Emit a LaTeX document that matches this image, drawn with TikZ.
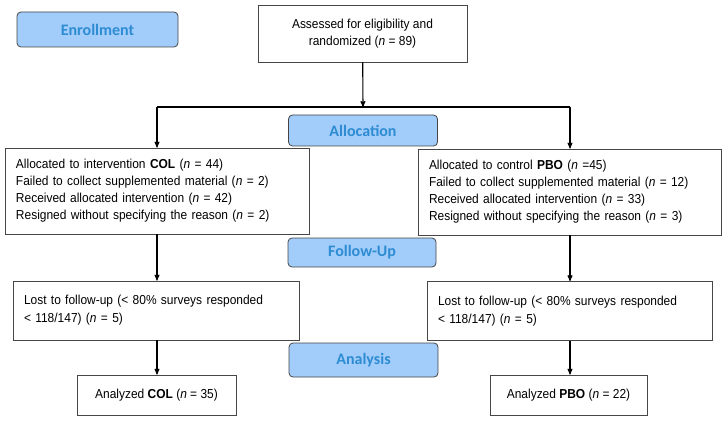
\documentclass[tikz,border=0pt]{standalone}
\usepackage{fontspec}
\setmainfont{Liberation Sans}[FakeStretch=0.92]
\newfontfamily\stagefont{Carlito}
\usepackage{tikz}
\usetikzlibrary{arrows,calc,positioning,shapes}
\definecolor{stagefill}{RGB}{162,204,250}
\definecolor{stagetext}{RGB}{45,140,210}
\definecolor{boxline}{RGB}{70,70,70}
\tikzset{
flow/.style={>=stealth',x=1pt,y=-1pt,
font=\fontsize{13}{17}\selectfont},
link/.style={->,line width=1.1pt},
stage/.style={rectangle,rounded corners=4pt,draw=boxline,fill=stagefill,
text=stagetext,font=\stagefont\bfseries\fontsize{16}{18}\selectfont,
minimum width=#1,minimum height=32pt,inner sep=0pt,thick},
stage/.default={149pt},
infobox/.style={rectangle,draw=boxline,thick,align=left,
text width=#1,inner xsep=11pt,inner ysep=0pt},
countbox/.style={rectangle,draw=boxline,thick,align=center,inner sep=0pt},
}
\newcommand{\ncount}[1]{(\textit{n} = #1)}

\begin{document}
\begin{tikzpicture}[flow]
\useasboundingbox (0,0) rectangle (728,422);
                    \node[stage=161pt,minimum height=35pt] (enroll) at (97.5,29.5) {Enrollment};
                    \node[countbox,minimum width=209pt,minimum height=57pt] (assess) at (362.5,33.5)
                        {Assessed for eligibility and\\randomized \ncount{89}};

                    \coordinate (split) at (363,107);
                    \coordinate (splitL) at (157,107);
                    \coordinate (splitR) at (570,107);

                    \node[stage,minimum height=31pt] (alloc) at (363,130.5) {Allocation};
                    \node[infobox=282pt,minimum height=86pt] (colbox) at (157,191)
                        {Allocated to intervention \textbf{COL} \ncount{44}\\
                         Failed to collect supplemented material \ncount{2}\\
                         Received allocated intervention \ncount{42}\\
                         Resigned without specifying the reason \ncount{2}};
                    \node[infobox=281pt,minimum height=86pt] (pbobox) at (569.5,192)
                        {Allocated to control \textbf{PBO} (\textit{n} =45)\\
                         Failed to collect supplemented material \ncount{12}\\
                         Received allocated intervention \ncount{33}\\
                         Resigned without specifying the reason \ncount{3}};

                    \node[stage=148pt,minimum height=29pt] (follow) at (362,252.5) {Follow-Up};
                    \node[infobox=264pt,minimum height=59pt,font=\fontsize{13}{18}\selectfont] (lostcol) at (156,310.5)
                        {Lost to follow-up (< 80\% surveys responded\\ < 118/147) \ncount{5}};
                    \node[infobox=263pt,minimum height=59pt,font=\fontsize{13}{18}\selectfont] (lostpbo) at (569.5,311)
                        {Lost to follow-up (< 80\% surveys responded\\ < 118/147) \ncount{5}};

                    \node[stage,minimum height=34pt] (analysis) at (363.5,360) {Analysis};
                    \node[countbox,minimum width=159pt,minimum height=40pt] (anacol) at (156.5,395)
                        {Analyzed \textbf{COL} \ncount{35}};
                    \node[countbox,minimum width=157pt,minimum height=40pt] (anapbo) at (568.5,395)
                        {Analyzed \textbf{PBO} \ncount{22}};

                    \path[link] (assess) edge (split);
                    \draw[line width=1.1pt] (splitL) -- (splitR);
                    \path[link] (splitL) edge (colbox.north -| splitL);
                    \path[link] (splitR) edge (pbobox.north -| splitR);
                    \path[link] (colbox.south -| splitL) edge (lostcol.north -| splitL);
                    \path[link] (pbobox.south -| splitR) edge (lostpbo.north -| splitR);
                    \path[link] (lostcol.south -| splitL) edge (anacol.north -| splitL);
                    \path[link] (lostpbo.south -| splitR) edge (anapbo.north -| splitR);

                \end{tikzpicture}
\end{document}
